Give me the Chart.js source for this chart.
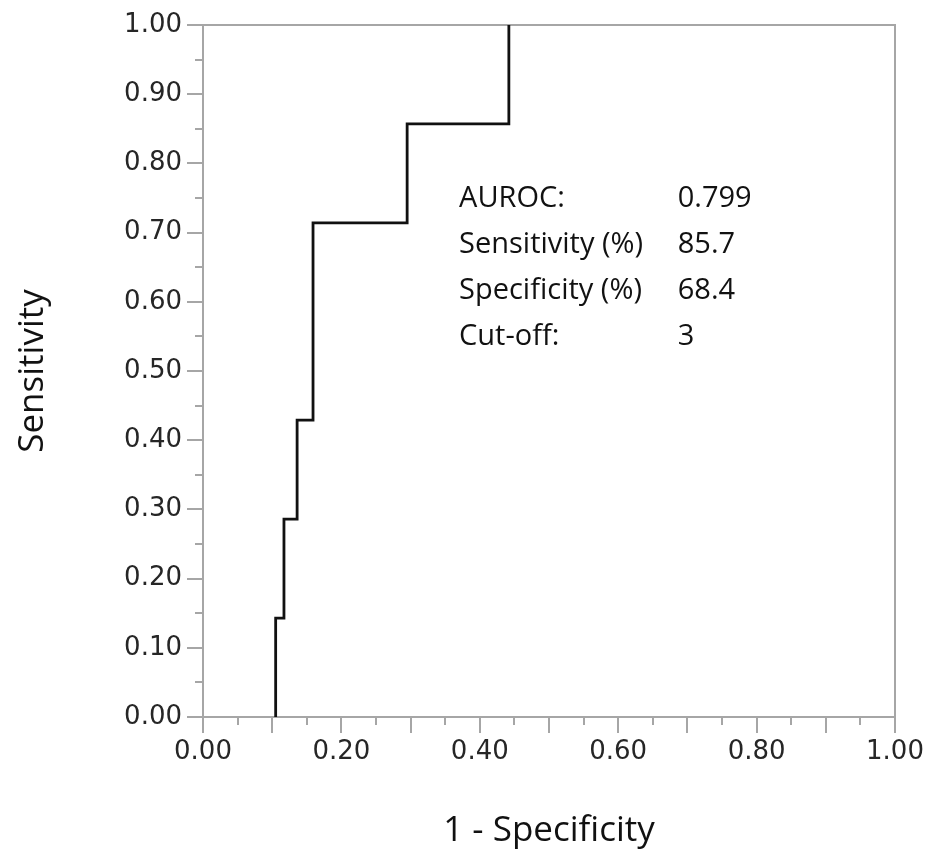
<!DOCTYPE html>
<html>
<head>
<meta charset="utf-8">
<script src="https://cdn.jsdelivr.net/npm/chart.js@4/dist/chart.umd.min.js"></script>
<style>
    html, body { margin: 0; padding: 0; background: #fff; }
    #wrap { width: 928px; height: 859px; }
</style>
</head>
<body>
<div id="wrap"><canvas id="roc-chart" width="928" height="859"></canvas></div>
<script>
// ROC corner points (1 - specificity, sensitivity)
var fpr = [0.105, 0.117, 0.136, 0.159, 0.295, 0.442, 0.442];
var tpr = [0.000, 0.143, 0.286, 0.429, 0.714, 0.857, 1.000];

// summary box
var statLabels = ["AUROC:", "Sensitivity (%)", "Specificity (%)", "Cut-off:"];
var statValues = ["0.799", "85.7", "68.4", "3"];

var axisColor = "#a6a6a6";
var tickFont = { family: "DejaVu Sans", size: 26 };
var textFont = "Open Sans";

function rocPoints(){
    var pts = [];
    for (var i = 0; i < fpr.length; i++){
        pts.push({ x: fpr[i], y: tpr[i] });
    }
    return pts;
}

// frame, minor ticks and the stats text
var decorPlugin = {
    id: "decor",
    beforeDatasetsDraw: function(chart){
        var ctx = chart.ctx;
        var area = chart.chartArea;
        var xs = chart.scales.x, ys = chart.scales.y;
        ctx.save();
        ctx.strokeStyle = axisColor;
        ctx.lineWidth = 2;
        ctx.beginPath();
        ctx.moveTo(area.left, area.top);
        ctx.lineTo(area.right, area.top);
        ctx.lineTo(area.right, area.bottom);
        ctx.stroke();
        // minor ticks every 0.05
        ctx.beginPath();
        for (var v = 0.05; v < 1; v += 0.1){
            var px = Math.round(xs.getPixelForValue(v));
            ctx.moveTo(px, area.bottom);
            ctx.lineTo(px, area.bottom + 8);
            var py = Math.round(ys.getPixelForValue(v));
            ctx.moveTo(area.left, py);
            ctx.lineTo(area.left - 8, py);
        }
        ctx.stroke();
        ctx.restore();
    },
    afterDraw: function(chart){
        var ctx = chart.ctx;
        var xs = chart.scales.x, ys = chart.scales.y;
        ctx.save();
        ctx.fillStyle = "#111";
        ctx.font = "29px '" + textFont + "'";
        ctx.textBaseline = "middle";
        ctx.textAlign = "left";
        for (var i = 0; i < statLabels.length; i++){
            var y = ys.getPixelForValue(0.749 - i * 0.0665);
            ctx.fillText(statLabels[i], xs.getPixelForValue(0.370), y);
            ctx.fillText(statValues[i], xs.getPixelForValue(0.686), y);
        }
        ctx.restore();
    }
};

var ctx = document.getElementById("roc-chart");
var chart = new Chart(ctx, {
    type: "scatter",
    data: {
        datasets: [{
            data: rocPoints(),
            showLine: true,
            stepped: "after",
            borderColor: "#111",
            borderWidth: 2.8,
            pointRadius: 0,
            fill: false
        }]
    },
    options: {
        responsive: false,
        animation: false,
        layout: { padding: { top: 25, right: 33, left: 0, bottom: 0 } },
        plugins: {
            legend: { display: false },
            tooltip: { enabled: false }
        },
        scales: {
            x: {
                type: "linear",
                min: 0,
                max: 1,
                afterFit: function(scale){ scale.height = 142; },
                border: { display: true, color: axisColor, width: 2 },
                grid: { display: true, drawOnChartArea: false, drawTicks: true, tickLength: 16, color: axisColor, lineWidth: 2 },
                ticks: {
                    stepSize: 0.1,
                    autoSkip: false,
                    maxRotation: 0,
                    padding: 4,
                    color: "#262626",
                    font: tickFont,
                    callback: function(value){
                        return Math.round(value * 10) % 2 === 0 ? Number(value).toFixed(2) : "";
                    }
                },
                title: {
                    display: true,
                    text: "1 - Specificity",
                    color: "#111",
                    font: { family: textFont, size: 35 },
                    padding: { top: 0, bottom: 7 }
                }
            },
            y: {
                type: "linear",
                min: 0,
                max: 1,
                afterFit: function(scale){ scale.width = 203; },
                border: { display: true, color: axisColor, width: 2 },
                grid: { display: true, drawOnChartArea: false, drawTicks: true, tickLength: 16, color: axisColor, lineWidth: 2 },
                ticks: {
                    stepSize: 0.1,
                    autoSkip: false,
                    padding: 5,
                    color: "#262626",
                    font: tickFont,
                    callback: function(value){ return Number(value).toFixed(2); }
                },
                title: {
                    display: true,
                    text: "Sensitivity",
                    color: "#111",
                    font: { family: textFont, size: 35 },
                    padding: { top: 12, bottom: 0 }
                }
            }
        }
    },
    plugins: [decorPlugin]
});
</script>
</body>
</html>
